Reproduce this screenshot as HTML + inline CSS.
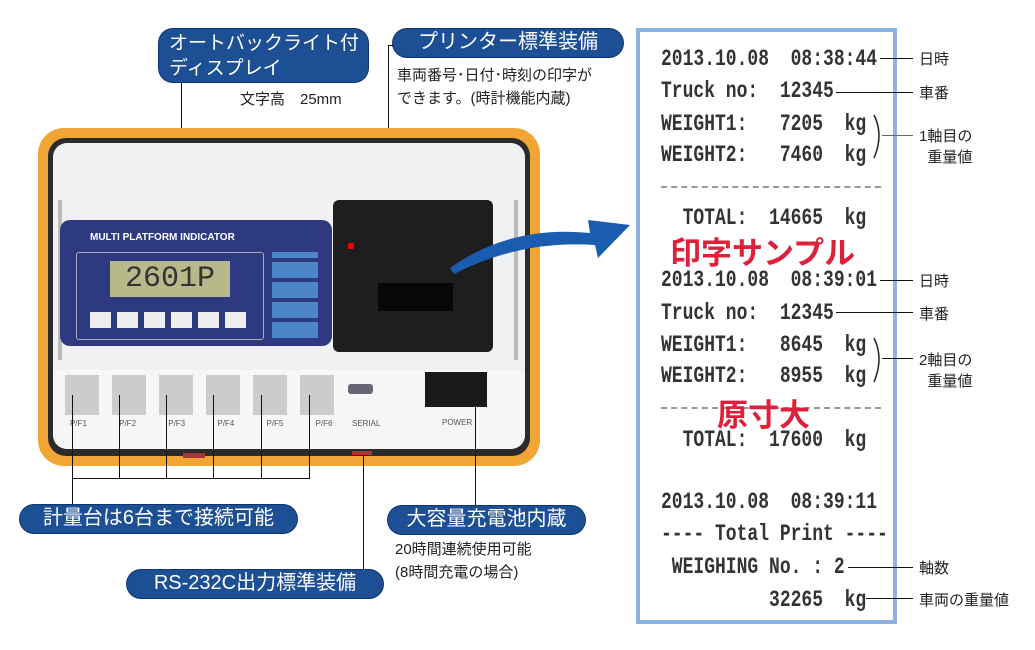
<!DOCTYPE html>
<html><head><meta charset="utf-8"><style>
body{margin:0;width:1035px;height:650px;background:#fff;position:relative;overflow:hidden;font-family:"Liberation Sans","Noto Sans CJK JP",sans-serif}
.a{position:absolute}
.lab{position:absolute;background:#1d4f95;color:#fff;border-radius:14px;font-size:20px;line-height:26px;padding:0 12px;box-sizing:border-box;white-space:nowrap;box-shadow:0 0 0 1px #0d3572}
.t{position:absolute;font-size:15px;color:#222;white-space:nowrap}
.ln{position:absolute;background:#111}
.r{position:absolute;font-family:"Liberation Mono",monospace;font-weight:bold;font-size:18px;color:#333;white-space:pre;transform:scaleY(1.3);transform-origin:left center;line-height:20px}
.red{position:absolute;color:#e0203a;font-weight:bold;font-size:31px;white-space:nowrap}
.rl{position:absolute;font-size:15px;color:#222;white-space:nowrap}
</style></head><body>
<div class="lab" style="left:159px;top:29px;width:209px;height:53px;line-height:25px;padding:2px 0 0 10px;font-size:19px">オートバックライト付<br>ディスプレイ</div>
<div class="t" style="left:240px;top:88px">文字高　25mm</div>
<div class="lab" style="left:393px;top:29px;width:230px;height:28px;text-align:center">プリンター標準装備</div>
<div class="t" style="left:397px;top:64px;line-height:23px">車両番号･日付･時刻の印字が<br>できます。(時計機能内蔵)</div>
<div class="ln" style="left:181px;top:82px;width:1px;height:170px"></div>
<div class="ln" style="left:388px;top:45px;width:1px;height:155px"></div>
<div class="ln" style="left:388px;top:45px;width:6px;height:1px"></div>

<div class="a" style="left:38px;top:128px;width:502px;height:338px;background:#f1a534;border-radius:26px"></div>
<div class="a" style="left:48px;top:138px;width:482px;height:318px;background:#2b2b2b;border-radius:18px"></div>
<div class="a" style="left:53px;top:143px;width:472px;height:306px;background:#f0f1f3;border-radius:14px"></div>
<div class="a" style="left:53px;top:370px;width:472px;height:79px;background:#f6f6f6;border-radius:0 0 14px 14px"></div>
<div class="a" style="left:58px;top:200px;width:4px;height:160px;background:#bbb"></div>
<div class="a" style="left:514px;top:200px;width:4px;height:160px;background:#bbb"></div>
<div class="a" style="left:60px;top:220px;width:272px;height:126px;background:#2d3a80;border-radius:10px"></div>
<div class="a" style="left:90px;top:232px;color:#fff;font-size:10px;font-weight:bold">MULTI PLATFORM INDICATOR</div>
<div class="a" style="left:76px;top:252px;width:186px;height:86px;border:1px solid #aab;border-radius:3px"></div>
<div class="a" style="left:110px;top:261px;width:120px;height:36px;background:#b7b98b;font-family:'Liberation Mono',monospace;font-size:30px;line-height:36px;color:#333;text-align:center">2601P</div>
<div class="a" style="left:90px;top:312px;width:160px;height:16px;background:repeating-linear-gradient(90deg,#eee 0 21px,transparent 21px 27px)"></div>
<div class="a" style="left:272px;top:252px;width:46px;height:86px;background:repeating-linear-gradient(0deg,#4a86c8 0 16px,#2d3a80 16px 20px)"></div>
<div class="a" style="left:333px;top:200px;width:160px;height:152px;background:#1e1e1e;border-radius:6px"></div>
<div class="a" style="left:378px;top:283px;width:75px;height:28px;background:#080808"></div>
<div class="a" style="left:348px;top:243px;width:6px;height:6px;background:#e00"></div>
<div class="a" style="left:65px;top:375px;width:270px;height:40px;background:repeating-linear-gradient(90deg,#ccc 0 34px,transparent 34px 47px)"></div>
<div class="a" style="left:348px;top:384px;width:25px;height:10px;background:#667;border-radius:3px"></div>
<div class="a" style="left:425px;top:372px;width:62px;height:35px;background:#1a1a1a"></div>
<div class="a" style="left:70px;top:419px;font-size:8px;color:#555;word-spacing:30px">P/F1 P/F2 P/F3 P/F4 P/F5 P/F6</div>
<div class="a" style="left:352px;top:419px;font-size:8px;color:#555">SERIAL</div>
<div class="a" style="left:442px;top:418px;font-size:8px;color:#555">POWER</div>
<div class="a" style="left:183px;top:453px;width:22px;height:5px;background:#a33"></div>
<div class="a" style="left:352px;top:451px;width:20px;height:4px;background:#a33"></div>
<svg class="a" style="left:440px;top:200px" width="200" height="80"><path d="M10 68 Q70 25 150 33 L148 20 L190 25 L158 58 L155 45 Q80 40 14 74Z" fill="#1a5cb0"/></svg>

<div class="ln" style="left:72px;top:395px;width:1px;height:110px"></div>
<div class="ln" style="left:119px;top:395px;width:1px;height:84px"></div>
<div class="ln" style="left:166px;top:395px;width:1px;height:84px"></div>
<div class="ln" style="left:213px;top:395px;width:1px;height:84px"></div>
<div class="ln" style="left:261px;top:395px;width:1px;height:84px"></div>
<div class="ln" style="left:309px;top:395px;width:1px;height:84px"></div>
<div class="ln" style="left:72px;top:478px;width:238px;height:1px"></div>
<div class="ln" style="left:363px;top:455px;width:1px;height:115px"></div>
<div class="ln" style="left:475px;top:405px;width:1px;height:100px"></div>
<div class="lab" style="left:20px;top:505px;width:277px;height:28px;text-align:center">計量台は6台まで接続可能</div>
<div class="lab" style="left:388px;top:506px;width:197px;height:28px;text-align:center">大容量充電池内蔵</div>
<div class="t" style="left:395px;top:538px;line-height:23px">20時間連続使用可能<br>(8時間充電の場合)</div>
<div class="lab" style="left:127px;top:570px;width:256px;height:28px;text-align:center">RS-232C出力標準装備</div>

<div class="a" style="left:636px;top:28px;width:261px;height:596px;box-sizing:border-box;border:4px solid #8ab4df;background:#fff"></div>
<div class="r" style="left:661px;top:50px">2013.10.08  08:38:44</div>
<div class="r" style="left:661px;top:82px">Truck no:  12345</div>
<div class="r" style="left:661px;top:115px">WEIGHT1:   7205  kg</div>
<div class="r" style="left:661px;top:146px">WEIGHT2:   7460  kg</div>
<div class="a" style="left:661px;top:186px;width:220px;border-top:2px dashed #999"></div>
<div class="r" style="left:661px;top:209px">  TOTAL:  14665  kg</div>
<div class="red" style="left:670px;top:228px">印字サンプル</div>
<div class="r" style="left:661px;top:271px">2013.10.08  08:39:01</div>
<div class="r" style="left:661px;top:304px">Truck no:  12345</div>
<div class="r" style="left:661px;top:336px">WEIGHT1:   8645  kg</div>
<div class="r" style="left:661px;top:367px">WEIGHT2:   8955  kg</div>
<div class="a" style="left:661px;top:407px;width:220px;border-top:2px dashed #999"></div>
<div class="red" style="left:717px;top:390px">原寸大</div>
<div class="r" style="left:661px;top:431px">  TOTAL:  17600  kg</div>
<div class="r" style="left:661px;top:493px">2013.10.08  08:39:11</div>
<div class="r" style="left:661px;top:525px">---- Total Print ----</div>
<div class="r" style="left:661px;top:558px"> WEIGHING No. : 2</div>
<div class="r" style="left:661px;top:591px">          32265  kg</div>
<svg class="a" style="left:870px;top:110px" width="20" height="300"><path d="M4 5 Q14 25 4 48" stroke="#222" fill="none" stroke-width="1.5"/><path d="M4 228 Q14 248 4 272" stroke="#222" fill="none" stroke-width="1.5"/></svg>
<div class="ln" style="left:880px;top:58px;width:33px;height:1px"></div><div class="rl" style="left:919px;top:48px">日時</div>
<div class="ln" style="left:836px;top:92px;width:77px;height:1px"></div><div class="rl" style="left:919px;top:82px">車番</div>
<div class="ln" style="left:882px;top:135px;width:31px;height:1px;background:#666"></div><div class="rl" style="left:919px;top:126px;line-height:21px">1軸目の<br>&nbsp;&nbsp;重量値</div>
<div class="ln" style="left:880px;top:280px;width:33px;height:1px"></div><div class="rl" style="left:919px;top:270px">日時</div>
<div class="ln" style="left:836px;top:312px;width:77px;height:1px"></div><div class="rl" style="left:919px;top:303px">車番</div>
<div class="ln" style="left:882px;top:358px;width:31px;height:1px"></div><div class="rl" style="left:919px;top:350px;line-height:21px">2軸目の<br>&nbsp;&nbsp;重量値</div>
<div class="ln" style="left:848px;top:567px;width:65px;height:1px"></div><div class="rl" style="left:919px;top:557px">軸数</div>
<div class="ln" style="left:866px;top:598px;width:47px;height:1px"></div><div class="rl" style="left:919px;top:589px">車両の重量値</div>
</body></html>
